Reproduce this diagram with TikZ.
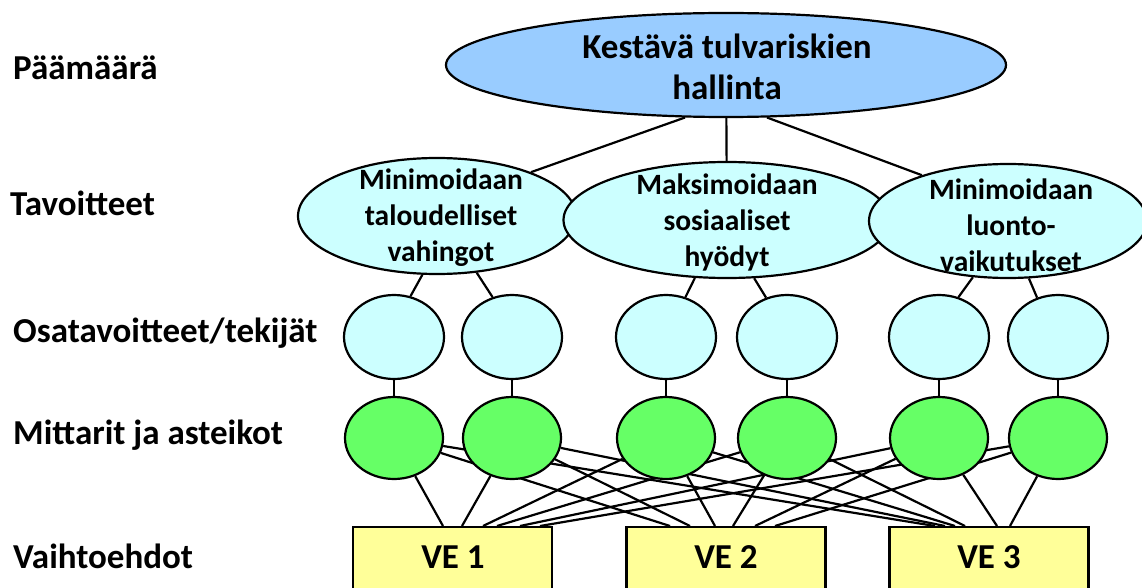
\documentclass[tikz,border=0pt]{standalone}
\usepackage{fontspec}
\setmainfont{Carlito}
\usetikzlibrary{shapes.geometric,backgrounds}
\definecolor{goalblue}{HTML}{99CCFF}
\definecolor{objcyan}{HTML}{CCFFFF}
\definecolor{measgreen}{HTML}{66FF66}
\definecolor{altyellow}{HTML}{FFFF99}
\tikzset{
  lvl/.style={anchor=west,font=\bfseries\fontsize{35}{40}\selectfont,inner sep=0pt},
  oval/.style={ellipse,draw=black,line width=2.2pt,inner sep=0pt},
  goal/.style={oval,fill=goalblue,minimum width=560pt,minimum height=104pt},
  obj/.style={oval,fill=objcyan,minimum width=276pt,minimum height=116pt},
  sub/.style={oval,fill=objcyan,minimum width=100pt,minimum height=84pt},
  meas/.style={oval,fill=measgreen,minimum width=98pt,minimum height=82pt},
  alt/.style={draw=black,line width=2.4pt,fill=altyellow,minimum width=199pt,minimum height=80pt,anchor=north,inner sep=0pt},
  ovtext/.style={align=center,font=\bfseries\fontsize{29.5}{36}\selectfont,inner sep=0pt},
  bigtext/.style={align=center,font=\bfseries\fontsize{35}{41}\selectfont,inner sep=0pt},
  conn/.style={draw=black,line width=2.2pt},
}
\begin{document}
\begin{tikzpicture}[x=1pt,y=-1pt]
\clip (0,0) rectangle (1142,588);
% level labels
\node[lvl] (l1) at (13,68) {Päämäärä};
\node[lvl] (l2) at (10,203) {Tavoitteet};
\node[lvl] (l3) at (13,333) {Osatavoitteet/tekijät};
\node[lvl] (l4) at (13,435) {Mittarit ja asteikot};
\node[lvl] (l5) at (13,556) {Vaihtoehdot};
% goal
\node[goal] (top) at (726,65) {};
\node[bigtext] (toptxt) at (727,67) {Kestävä tulvariskien\\hallinta};
% objectives
\node[obj,minimum width=278pt] (t1) at (437,216) {};
\node[obj,minimum width=327pt] (t2) at (727,220) {};
\node[obj,minimum width=278pt,minimum height=114pt] (t3) at (1008,221) {};
\node[ovtext] (t1txt) at (441,218) {Minimoidaan\\taloudelliset\\vahingot};
\node[ovtext] (t2txt) at (727,222) {Maksimoidaan\\sosiaaliset\\hyödyt};
\node[ovtext] (t3txt) at (1011,225) {Minimoidaan\\luonto-\\vaikutukset};
% sub-objectives and measures
\foreach \i/\x in {1/394,2/512,3/666,4/787,5/939,6/1058}{
  \node[sub] (c\i) at (\x,337) {};
  \node[meas] (g\i) at (\x,438) {};
}
% alternatives
\node[alt] (ve1) at (452.5,526) {};
\node[alt] (ve2) at (726,526) {};
\node[alt] (ve3) at (989,526) {};
\node[bigtext] (ve1txt) at (453,557) {VE 1};
\node[bigtext] (ve2txt) at (726,557) {VE 2};
\node[bigtext] (ve3txt) at (989,557) {VE 3};
% end points on the alternative boxes
\foreach \b/\xa/\xb/\xc/\xd/\xe/\xf in {1/443/462/483/497/520/540,2/670/690/715/733/755/775,3/935/945/955/965/997/1010}{
  \coordinate (e\b-1) at (\xa,526);
  \coordinate (e\b-2) at (\xb,526);
  \coordinate (e\b-3) at (\xc,526);
  \coordinate (e\b-4) at (\xd,526);
  \coordinate (e\b-5) at (\xe,526);
  \coordinate (e\b-6) at (\xf,526);
}
\begin{scope}[on background layer]
  \draw[conn] (top.232) -- (t1.25);
  \draw[conn] (top) -- (t2);
  \draw[conn] (top.308) -- (t3.152);
  \draw[conn] (t1.256) -- (c1.68);
  \draw[conn] (t1.305) -- (c2.116);
  \draw[conn] (t2.241) -- (c3.64);
  \draw[conn] (t2.295) -- (c4.118);
  \draw[conn] (t3.238) -- (c5.64);
  \draw[conn] (t3.290) -- (c6.118);
  \foreach \i in {1,...,6}{
    \draw[conn] (c\i) -- (g\i);
    \foreach \b in {1,2,3}{
      \draw[conn] (g\i) -- (e\b-\i);
    }
  }
\end{scope}
\end{tikzpicture}
\end{document}
